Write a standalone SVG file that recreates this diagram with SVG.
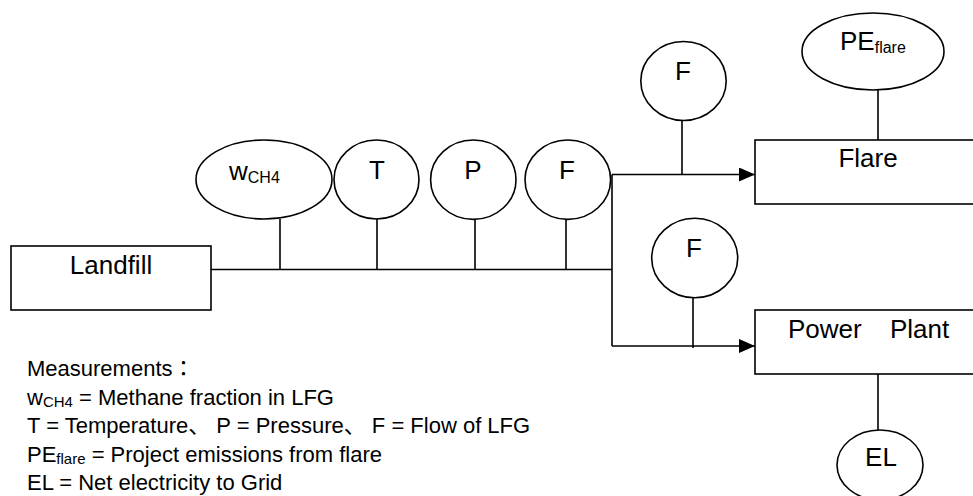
<svg xmlns="http://www.w3.org/2000/svg" width="973" height="496" viewBox="0 0 973 496">
<defs>
<style>
.s{fill:none;stroke:#000;stroke-width:1.6}
.b{fill:#fff;stroke:#000;stroke-width:1.6}
.t{font-family:"Liberation Sans",Arial,sans-serif;font-size:26px;fill:#000}
.m{text-anchor:middle}
.sub{font-size:16px}
.lg{font-family:"Liberation Sans",Arial,"Noto Sans CJK JP",sans-serif;font-size:22px;fill:#000}
.lsub{font-size:15px}
</style>
<marker id="ah" viewBox="0 0 16 14" refX="16" refY="7" markerWidth="16" markerHeight="14" markerUnits="userSpaceOnUse" orient="auto">
<path d="M0,0 L16,7 L0,14 Z" fill="#000"/>
</marker>
</defs>
<rect width="973" height="496" fill="#fff"/>
<g id="connectors">
<path class="s" d="M211,269.5 H612"/>
<path class="s" d="M280,219 V269.5 M377,219 V269.5 M475,219.5 V269.5 M566,219.5 V269.5"/>
<path class="s" d="M612,174.5 V346"/>
<path class="s" d="M612,174.5 H755" marker-end="url(#ah)"/>
<path class="s" d="M612,346 H755" marker-end="url(#ah)"/>
<path class="s" d="M682,120.5 V174.5"/>
<path class="s" d="M693,297.7 V348"/>
<path class="s" d="M878,90 V140"/>
<path class="s" d="M878,374 V430"/>
</g>
<g id="landfill">
<rect class="b" x="11" y="246" width="200" height="64"/>
<text class="t m" x="111" y="274">Landfill</text>
</g>
<g id="wch4">
<ellipse class="b" cx="264" cy="179.5" rx="68" ry="39.5"/>
<text class="t" x="229" y="180">w<tspan class="sub" dy="3">CH4</tspan></text>
</g>
<g id="temp">
<ellipse class="b" cx="376.5" cy="179.5" rx="42.5" ry="39.5"/>
<text class="t m" x="377" y="179">T</text>
</g>
<g id="pressure">
<ellipse class="b" cx="473.3" cy="179.7" rx="42.7" ry="39.7"/>
<text class="t m" x="473" y="179">P</text>
</g>
<g id="flow-main">
<ellipse class="b" cx="567.8" cy="179.7" rx="42.8" ry="39.7"/>
<text class="t m" x="567" y="179">F</text>
</g>
<g id="flow-flare">
<ellipse class="b" cx="683.5" cy="81" rx="42.7" ry="39.5"/>
<text class="t m" x="683" y="80">F</text>
</g>
<g id="flow-power">
<ellipse class="b" cx="694.7" cy="258" rx="43" ry="39.7"/>
<text class="t m" x="694" y="257">F</text>
</g>
<g id="pe-flare">
<ellipse class="b" cx="873" cy="51.5" rx="71" ry="38.5"/>
<text class="t" x="840" y="50">PE<tspan class="sub" dy="3">flare</tspan></text>
</g>
<g id="flare">
<rect class="b" x="755" y="140" width="240" height="64"/>
<text class="t m" x="868" y="167">Flare</text>
</g>
<g id="power-plant">
<rect class="b" x="755" y="310" width="240" height="64"/>
<text class="t" x="788" y="337.5">Power<tspan x="890">Plant</tspan></text>
</g>
<g id="el">
<ellipse class="b" cx="880" cy="465" rx="43" ry="35"/>
<text class="t m" x="881" y="466">EL</text>
</g>
<g id="legend">
<text class="lg" x="27" y="376">Measurements：</text>
<text class="lg" x="27" y="404.5">w<tspan class="lsub" dy="2">CH4</tspan><tspan dy="-2"> = Methane fraction in LFG</tspan></text>
<text class="lg" x="27" y="433">T = Temperature、 P = Pressure、 F = Flow of LFG</text>
<text class="lg" x="27" y="461.5">PE<tspan class="lsub" dy="2">flare</tspan><tspan dy="-2"> = Project emissions from flare</tspan></text>
<text class="lg" x="27" y="490">EL = Net electricity to Grid</text>
</g>
</svg>
